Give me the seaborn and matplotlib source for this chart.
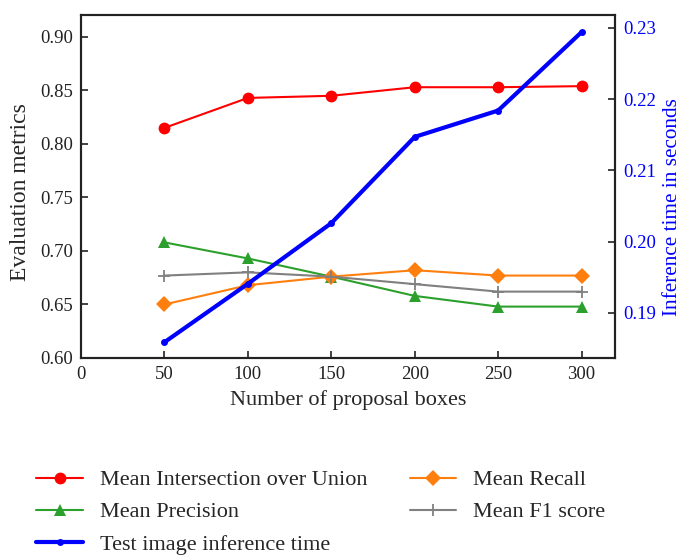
import matplotlib
matplotlib.use("Agg")
import matplotlib.pyplot as plt
import seaborn as sns
import pandas as pd

boxes = [50, 100, 150, 200, 250, 300]
mean_iou = [0.815, 0.843, 0.845, 0.853, 0.853, 0.854]
mean_precision = [0.708, 0.693, 0.676, 0.658, 0.648, 0.648]
mean_recall = [0.650, 0.668, 0.676, 0.682, 0.677, 0.677]
mean_f1 = [0.677, 0.680, 0.676, 0.669, 0.662, 0.662]
inference_time = [0.1859, 0.1941, 0.2026, 0.2147, 0.2184, 0.2294]
x_ticks = [0, 50, 100, 150, 200, 250, 300]
left_ticks = [0.60, 0.65, 0.70, 0.75, 0.80, 0.85, 0.90]
right_ticks = [0.19, 0.20, 0.21, 0.22, 0.23]

sns.set_style("ticks")
plt.rcParams['font.family'] = ['Liberation Serif', 'DejaVu Serif']
plt.rcParams['mathtext.fontset'] = 'stix'

fig = plt.figure(figsize=(6.81, 5.55), dpi=100)
ax = fig.add_axes([0.119, 0.355, 0.784, 0.618])
ax2 = ax.twinx()

df = pd.DataFrame({"x": boxes, "iou": mean_iou, "prec": mean_precision,
                   "rec": mean_recall, "f1": mean_f1, "t": inference_time})

sns.lineplot(data=df, x="x", y="iou", ax=ax, color="#ff0000", marker="o",
             markersize=8.5, markeredgewidth=0, lw=1.5, label="Mean Intersection over Union")
sns.lineplot(data=df, x="x", y="prec", ax=ax, color="#2ca02c", marker="^",
             markersize=9, markeredgewidth=0, lw=1.5, label="Mean Precision")
sns.lineplot(data=df, x="x", y="rec", ax=ax, color="#ff7f0e", marker="D",
             markersize=8.5, markeredgewidth=0, lw=1.5, label="Mean Recall")
sns.lineplot(data=df, x="x", y="f1", ax=ax, color="#808080", marker="+",
             markersize=9, markeredgewidth=1.3, mec="#808080", lw=1.5, label="Mean F1 score")
sns.lineplot(data=df, x="x", y="t", ax=ax2, color="#0000ff", marker="o",
             markersize=5, markeredgewidth=0, lw=3, label="Test image inference time")

ax.set_xlim(0, 320)
ax.set_ylim(0.60, 0.9205)
ax2.set_ylim(0.18369, 0.2318)
ax.set_xticks(x_ticks)
ax.set_yticks(left_ticks)
ax.set_yticklabels([f"{v:.2f}" for v in left_ticks])
ax2.set_yticks(right_ticks)
ax2.set_yticklabels([f"{v:.2f}" for v in right_ticks])

ax.set_xlabel("Number of proposal boxes", fontsize=16, labelpad=5)
ax.set_ylabel("Evaluation metrics", fontsize=17, labelpad=6, y=0.483)
ax2.set_ylabel("Inference time in seconds", fontsize=15.3, color="#0000ff", labelpad=5, y=0.44)

ax.tick_params(axis="both", direction="in", labelsize=13.5, length=5, width=1.2,
               colors="#222222", pad=6)
ax2.tick_params(axis="y", direction="in", labelsize=13.5, length=5, width=1.2,
                colors="#222222", labelcolor="#0000ff", pad=6)
for a in (ax, ax2):
    for s in a.spines.values():
        s.set_visible(True)
        s.set_linewidth(1.5)
        s.set_color("#222222")

h1, l1 = ax.get_legend_handles_labels()
h2, l2 = ax2.get_legend_handles_labels()
ax.get_legend().remove()
ax2.get_legend().remove()
order_h = [h1[0], h1[1], h2[0], h1[2], h1[3]]
order_l = [l1[0], l1[1], l2[0], l1[2], l1[3]]
fig.legend(order_h, order_l, ncol=2, loc="upper left", bbox_to_anchor=(0.047, 0.1615),
           frameon=False, fontsize=16, handlelength=2.1, columnspacing=1.9,
           labelspacing=0.52, handletextpad=0.75, borderaxespad=0, borderpad=0.2)

fig.savefig("out.png", dpi=100)
